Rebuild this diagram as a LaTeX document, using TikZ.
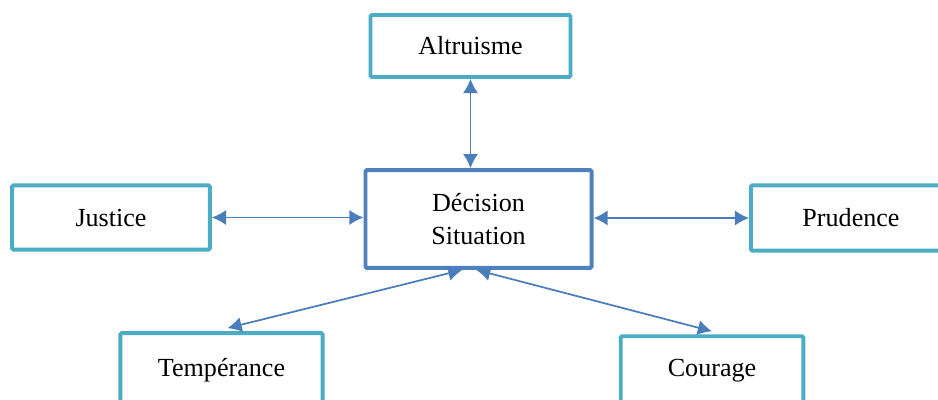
\documentclass[tikz,border=0pt]{standalone}
\usepackage{fontspec}
\setmainfont{Liberation Serif}
\usepackage{tikz}
\usetikzlibrary{calc, arrows.meta, positioning}
\definecolor{virtue}{HTML}{4BACC6}
\definecolor{core}{HTML}{4F81BD}
\definecolor{link}{HTML}{4A7EBB}

\begin{document}
\begin{tikzpicture}[x=0.46pt, y=-0.46pt, >={Latex[length=6.5pt, width=7pt]},
    virtue/.style={draw=virtue, line width=1.8pt, rounded corners=0.6pt, fill=white, align=center, font=\fontsize{12}{15}\selectfont},
    core/.style={draw=core, line width=1.8pt, rounded corners=0.6pt, fill=white, align=center, font=\fontsize{12}{15}\selectfont},
    link/.style={draw=link, line width=0.8pt, <->}]
    \useasboundingbox (0,0) rectangle (938,399);

    \node[core, minimum width=104pt, minimum height=45pt] (decision) at (478.5,219) {Décision\\Situation};
    \node[virtue, minimum width=92pt, minimum height=28.5pt] (altruisme) at (470.5,46) {Altruisme};
    \node[virtue, minimum width=91pt, minimum height=29.5pt] (justice) at (111,217.5) {Justice};
    \node[virtue, minimum width=92pt, minimum height=30pt] (prudence) at (851,218) {Prudence};
    \node[virtue, minimum width=93pt, minimum height=34pt] (temperance) at (221.5,370) {Tempérance};
    \node[virtue, minimum width=84pt, minimum height=32pt] (courage) at (712,371) {Courage};

    \draw[link] (altruisme.south) -- (altruisme.south |- decision.north);
    \draw[link] (justice.east) -- (justice.east -| decision.west);
    \draw[link] (decision.east |- prudence.west) -- (prudence.west);
    \draw[link] ($(temperance.north)+(6,-3)$) -- ($(decision.south west)!0.43!(decision.south east)$);
    \draw[link] ($(decision.south west)!0.49!(decision.south east)$) -- ($(courage.north)+(0,-3)$);

\end{tikzpicture}
\end{document}
